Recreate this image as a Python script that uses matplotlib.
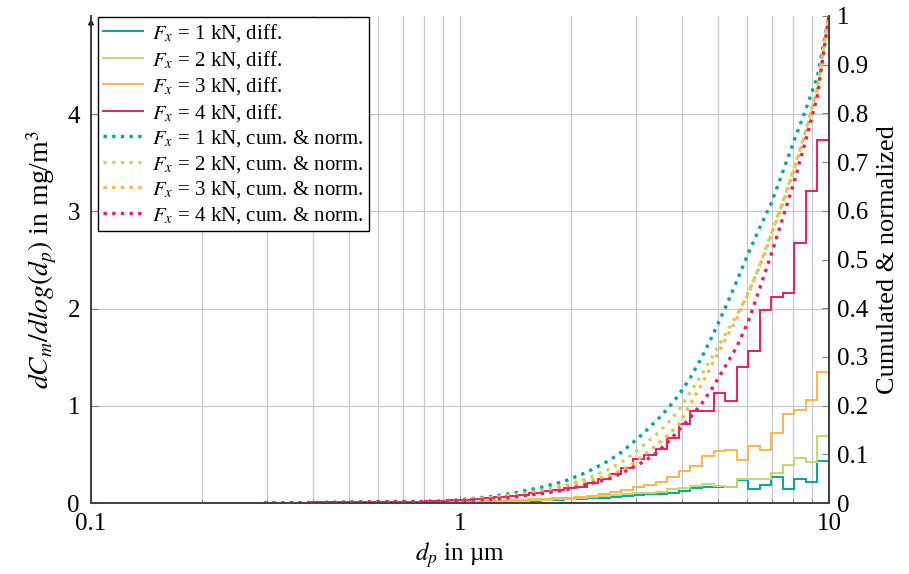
import numpy as np
import matplotlib
matplotlib.use('Agg')
import matplotlib.pyplot as plt
from matplotlib.ticker import FixedLocator, NullFormatter

#%% data
# channel layout: 49 channels, 32 per decade, from 0.294 um up to 10 um
d_min = 0.294
n_per_decade = 32
n_channels = 49
edges = d_min * 10 ** (np.arange(n_channels + 1) / n_per_decade)

# dC_m/dlog(d_p) in mg/m^3 per channel
diff_1kN = [0.001, 0.001, 0.001, 0.002, 0.002, 0.002, 0.002, 0.003, 0.003, 0.003,
            0.004, 0.004, 0.005, 0.005, 0.006, 0.007, 0.008, 0.010, 0.012, 0.014,
            0.016, 0.019, 0.022, 0.025, 0.028, 0.032, 0.038, 0.045, 0.050, 0.055,
            0.065, 0.075, 0.085, 0.090, 0.095, 0.105, 0.125, 0.150, 0.165, 0.160,
            0.160, 0.236, 0.140, 0.180, 0.264, 0.140, 0.247, 0.220, 0.435]
diff_2kN = [0.001, 0.001, 0.001, 0.002, 0.002, 0.002, 0.003, 0.003, 0.003, 0.004,
            0.004, 0.005, 0.005, 0.006, 0.007, 0.008, 0.010, 0.012, 0.014, 0.016,
            0.018, 0.021, 0.024, 0.028, 0.032, 0.037, 0.045, 0.055, 0.060, 0.070,
            0.080, 0.090, 0.100, 0.105, 0.115, 0.140, 0.155, 0.170, 0.200, 0.175,
            0.160, 0.243, 0.250, 0.250, 0.305, 0.387, 0.463, 0.425, 0.690]
diff_3kN = [0.001, 0.001, 0.002, 0.002, 0.002, 0.002, 0.003, 0.003, 0.003, 0.004,
            0.004, 0.005, 0.005, 0.006, 0.007, 0.008, 0.010, 0.012, 0.015, 0.018,
            0.022, 0.026, 0.030, 0.036, 0.042, 0.048, 0.055, 0.065, 0.075, 0.093,
            0.113, 0.130, 0.160, 0.185, 0.215, 0.270, 0.330, 0.380, 0.480, 0.530,
            0.540, 0.440, 0.590, 0.550, 0.720, 0.920, 0.960, 1.060, 1.350]
diff_4kN = [0.004, 0.004, 0.005, 0.005, 0.006, 0.006, 0.007, 0.008, 0.008, 0.009,
            0.010, 0.011, 0.013, 0.015, 0.020, 0.025, 0.030, 0.035, 0.040, 0.050,
            0.060, 0.075, 0.085, 0.100, 0.120, 0.134, 0.150, 0.160, 0.210, 0.245,
            0.295, 0.360, 0.450, 0.490, 0.560, 0.665, 0.810, 0.950, 0.950, 1.130,
            1.050, 1.400, 1.560, 1.980, 2.120, 2.160, 2.670, 3.210, 3.730]

# cumulated & normalized curves, given at channel edges
cum_idx = [0, 4, 8, 12, 14, 16, 18, 20, 22, 24, 26, 28, 30, 31, 32, 33, 34, 35,
           36, 37, 38, 39, 40, 41, 42, 43, 44, 45, 46, 47, 48, 49]
cum_1kN = [0.0, 0.0005, 0.001, 0.002, 0.003, 0.005, 0.009, 0.014, 0.022, 0.032,
           0.044, 0.063, 0.088, 0.104, 0.124, 0.145, 0.168, 0.193, 0.222, 0.258,
           0.300, 0.348, 0.400, 0.455, 0.512, 0.565, 0.615, 0.680, 0.745, 0.808,
           0.875, 1.0]
cum_2kN = [0.0, 0.0005, 0.001, 0.002, 0.003, 0.004, 0.006, 0.010, 0.015, 0.023,
           0.035, 0.050, 0.070, 0.084, 0.100, 0.120, 0.140, 0.163, 0.192, 0.228,
           0.265, 0.305, 0.345, 0.385, 0.428, 0.488, 0.553, 0.618, 0.688, 0.765,
           0.850, 1.0]
cum_3kN = [0.0, 0.0005, 0.001, 0.002, 0.003, 0.005, 0.008, 0.012, 0.018, 0.025,
           0.034, 0.044, 0.057, 0.067, 0.081, 0.099, 0.118, 0.138, 0.162, 0.204,
           0.245, 0.290, 0.335, 0.378, 0.432, 0.485, 0.550, 0.615, 0.685, 0.762,
           0.848, 1.0]
cum_4kN = [0.0, 0.001, 0.002, 0.003, 0.003, 0.004, 0.006, 0.008, 0.013, 0.019,
           0.026, 0.038, 0.050, 0.061, 0.073, 0.086, 0.102, 0.124, 0.150, 0.176,
           0.205, 0.240, 0.280, 0.320, 0.372, 0.440, 0.510, 0.585, 0.660, 0.745,
           0.835, 1.0]

forces = [1, 2, 3, 4]
colors = ['#00a99d', '#c3d86b', '#ffb547', '#ec1c5e']

#%% plot
plt.rcParams['font.family'] = 'Liberation Serif'
plt.rcParams['mathtext.fontset'] = 'stix'
plt.rcParams['font.size'] = 18

fig = plt.figure(figsize=(9.09, 5.74), dpi=100)
ax = fig.add_axes([91 / 909, 1 - 503 / 574, 738 / 909, 487 / 574])
ax2 = ax.twinx()

handles = []
for f_, c_, d_ in zip(forces, colors, [diff_1kN, diff_2kN, diff_3kN, diff_4kN]):
    lab_ = r'$F_x$ = %d kN, diff.' % f_
    ax.stairs(d_, edges, baseline=None, color=c_, lw=1.4)
    handles.append(plt.Line2D([], [], color=c_, lw=1.4, label=lab_))

x_cum = edges[cum_idx]
for f_, c_, y_ in zip(forces, colors, [cum_1kN, cum_2kN, cum_3kN, cum_4kN]):
    l_, = ax2.plot(x_cum, y_, color=c_, lw=2.4, ls=(0, (1, 1.6)),
                   label=r'$F_x$ = %d kN, cum. & norm.' % f_)
    handles.append(l_)

ax.set_xscale('log')
ax.set_xlim(0.1, 10)
ax.set_ylim(0, 5.008)
ax2.set_ylim(0, 1)

ax.xaxis.set_major_locator(FixedLocator([0.1, 1, 10]))
ax.set_xticklabels(['0.1', '1', '10'])
ax.xaxis.set_minor_locator(FixedLocator([m * 10.0 ** e for e in (-1, 0) for m in range(2, 10)]))
ax.xaxis.set_minor_formatter(NullFormatter())
ax.set_yticks([0, 1, 2, 3, 4])
ax2.set_yticks(np.round(np.arange(0, 1.01, 0.1), 1))
ax2.set_yticklabels(['0', '0.1', '0.2', '0.3', '0.4', '0.5', '0.6', '0.7', '0.8', '0.9', '1'])

ax.grid(True, which='both', axis='x', color='#c8c8c8', lw=0.9)
ax.grid(True, which='major', axis='y', color='#c8c8c8', lw=0.9)
ax.set_axisbelow(True)

for a_ in (ax, ax2):
    a_.spines['top'].set_visible(False)
    for s_ in a_.spines.values():
        s_.set_color('#404040')
        s_.set_linewidth(1.2)
ax.tick_params(which='both', direction='in', color='#808080')
ax.tick_params(axis='x', which='major', length=5, pad=7)
ax.tick_params(axis='x', which='minor', length=3)
ax.tick_params(axis='y', length=5, pad=8, right=False)
ax2.tick_params(direction='in', length=5, color='#808080', pad=6)

# arrow tip on top of the left axis
ax.annotate('', xy=(0, 1.0), xytext=(0, 0.985), xycoords='axes fraction',
            arrowprops=dict(arrowstyle='-|>', color='black', lw=1, mutation_scale=8))

ax.set_xlabel(r'$d_p$ in µm', labelpad=4)
ax.set_ylabel(r'$dC_m/dlog(d_p)$ in mg/m$^3$', labelpad=6, fontsize=20)
ax2.set_ylabel('Cumulated & normalized', labelpad=6, fontsize=19)

leg = ax2.legend(handles=handles, loc='upper left', bbox_to_anchor=(0.0095, 0.998),
                 borderaxespad=0, fontsize=15, handlelength=1.9, labelspacing=0.22,
                 handletextpad=0.45, borderpad=0.25, fancybox=False, framealpha=1)
leg.get_frame().set_edgecolor('black')
leg.get_frame().set_linewidth(1.0)

plt.savefig('out.png', dpi=100)
